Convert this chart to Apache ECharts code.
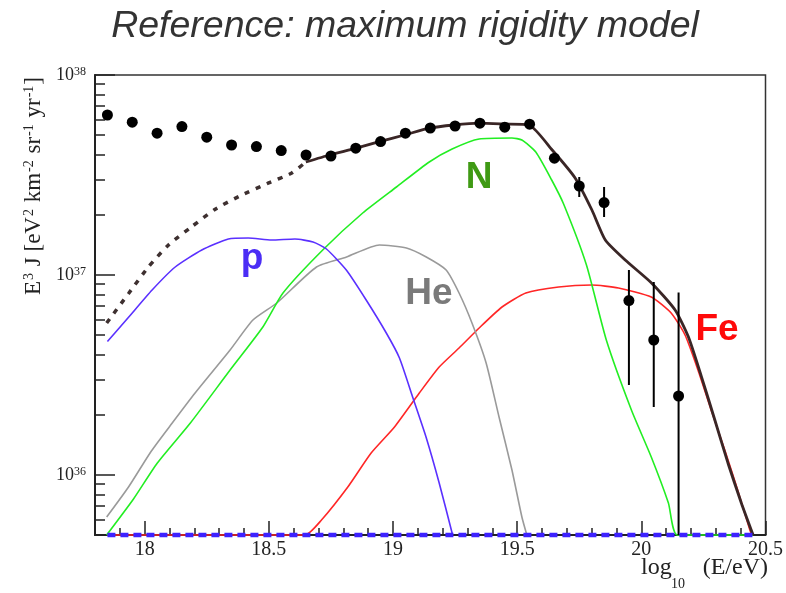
<!DOCTYPE html>
<html><head><meta charset="utf-8">
<script src="https://cdn.jsdelivr.net/npm/echarts@6/dist/echarts.min.js"></script>
<style>html,body{margin:0;padding:0;background:#fff}#c{width:786px;height:593px}</style>
</head><body><div id="c"></div>
<script>
// ---- text ----
const titleText = 'Reference: maximum rigidity model';
// ---- axis ticks ----
const xRange = [17.8, 20.5];
const xTickLabels = [18, 18.5, 19, 19.5, 20, 20.5];
const xMinorTicks = [17.9, 18.1, 18.2, 18.3, 18.4, 18.6, 18.7, 18.8, 18.9, 19.1, 19.2, 19.3, 19.4,
  19.6, 19.7, 19.8, 19.9, 20.1, 20.2, 20.3, 20.4];
// y axis is log10(E^3 J)
const yRange = [35.7, 38];
const yTickExponents = [36, 37, 38];
const yMinorTicks = [6e35, 7e35, 8e35, 9e35, 2e36, 3e36, 4e36, 5e36, 6e36, 7e36, 8e36, 9e36,
  2e37, 3e37, 4e37, 5e37, 6e37, 7e37, 8e37, 9e37];

// ---- measured points (log10 E^3 J) ----
const dataX = [17.85, 17.95, 18.05, 18.15, 18.25, 18.35, 18.45, 18.55, 18.65, 18.75, 18.85, 18.95,
  19.05, 19.15, 19.25, 19.35, 19.45, 19.55, 19.65, 19.75, 19.85, 19.95, 20.05, 20.15];
const dataLog = [37.80, 37.764, 37.709, 37.742, 37.689, 37.65, 37.642, 37.622, 37.60, 37.595, 37.634, 37.667,
  37.709, 37.735, 37.745, 37.759, 37.739, 37.754, 37.584, 37.445, 37.362, 36.872, 36.675, 36.395];
const errX = [19.75, 19.85, 19.95, 20.05, 20.15];
const errLowLog = [37.39, 37.29, 36.45, 36.34, 35.0];
const errHighLog = [37.49, 37.44, 37.025, 36.965, 36.912];

// ---- model curves (log10 E^3 J) ----
const totDashX = [17.847, 17.936, 18.016, 18.096, 18.19, 18.284, 18.391, 18.497, 18.591, 18.649];
const totDashLog = [36.76, 36.909, 37.042, 37.15, 37.242, 37.329, 37.40, 37.459, 37.509, 37.565];
const totX = [18.649, 18.745, 18.852, 18.945, 19.046, 19.146, 19.246, 19.347, 19.447, 19.547, 19.641,
  19.734, 19.801, 19.855, 19.935, 20.042, 20.136, 20.189, 20.242, 20.296, 20.349, 20.403, 20.45];
const totLog = [37.565, 37.60, 37.634, 37.667, 37.70, 37.734, 37.75, 37.759, 37.755, 37.75, 37.625,
  37.484, 37.325, 37.175, 37.075, 36.959, 36.825, 36.692, 36.492, 36.275, 36.059, 35.859, 35.70];

const pX = [17.85, 17.936, 18.03, 18.123, 18.23, 18.337, 18.417, 18.511, 18.605, 18.678, 18.732, 18.812,
  18.892, 18.973, 19.026, 19.079, 19.133, 19.186, 19.24];
const pLog = [36.667, 36.79, 36.925, 37.04, 37.125, 37.18, 37.185, 37.175, 37.18, 37.165, 37.13, 37.025,
  36.875, 36.71, 36.585, 36.39, 36.19, 35.96, 35.70];

const heX = [17.847, 17.935, 18.027, 18.111, 18.203, 18.344, 18.436, 18.532, 18.692, 18.813, 18.945, 19.054,
  19.134, 19.214, 19.266, 19.318, 19.375, 19.427, 19.479, 19.519, 19.539];
const heLog = [35.79, 35.94, 36.12, 36.26, 36.41, 36.625, 36.775, 36.86, 37.04, 37.09, 37.15, 37.135,
  37.09, 37.025, 36.91, 36.76, 36.56, 36.29, 36.025, 35.79, 35.70];

const nX = [17.847, 17.955, 18.051, 18.184, 18.344, 18.476, 18.557, 18.717, 18.878, 19.014, 19.146, 19.238,
  19.347, 19.479, 19.519, 19.575, 19.639, 19.687, 19.779, 19.859, 19.96, 20.04, 20.109, 20.145, 20.45];
const nLog = [35.70, 35.88, 36.06, 36.26, 36.525, 36.74, 36.91, 37.125, 37.31, 37.44, 37.565, 37.63,
  37.68, 37.685, 37.675, 37.615, 37.475, 37.355, 37.05, 36.675, 36.325, 36.09, 35.86, 35.70, 35.70];

const feX = [17.85, 18.645, 18.712, 18.818, 18.912, 19.006, 19.106, 19.186, 19.266, 19.347, 19.439, 19.535,
  19.667, 19.80, 19.908, 20.04, 20.12, 20.176, 20.228, 20.281, 20.336, 20.388, 20.437, 20.445];
const feLog = [35.70, 35.70, 35.775, 35.94, 36.11, 36.24, 36.41, 36.54, 36.635, 36.735, 36.84, 36.91,
  36.94, 36.95, 36.935, 36.89, 36.81, 36.70, 36.525, 36.325, 36.125, 35.925, 35.725, 35.70];

const floorX = [17.85, 20.45];
const floorLog = [35.70, 35.70];

// ---- curve labels ----
const curveNames = ['p', 'He', 'N', 'Fe'];

const zip = (xs, ys) => xs.map((x, i) => [x, ys[i]]);
const serif = '"Liberation Serif", "DejaVu Serif", serif';
const sans = '"Liberation Sans", Arial, sans-serif';

const chart = echarts.init(document.getElementById('c'), null, {renderer: 'canvas'});

function lineSeries(name, xs, ys, color, width, extra) {
  return Object.assign({
    name: name, type: 'line', data: zip(xs, ys), showSymbol: false, symbol: 'none',
    smooth: 0.2, lineStyle: {color: color, width: width}, z: 3, clip: false, animation: false
  }, extra || {});
}

const option = {
  animation: false,
  backgroundColor: '#ffffff',
  grid: {left: 95, top: 75, width: 673, height: 460, show: true, borderColor: '#333', borderWidth: 1.5,
    backgroundColor: 'transparent', z: 0},
  xAxis: [{
    type: 'value', min: xRange[0], max: xRange[1], position: 'bottom', z: 0,
    axisLine: {show: true, onZero: false, lineStyle: {color: '#222', width: 2}},
    axisTick: {show: true, inside: true, length: 14, customValues: xTickLabels, lineStyle: {color: '#222', width: 1.5}},
    axisLabel: {show: true, customValues: xTickLabels, margin: 5, fontFamily: serif, fontSize: 20, color: '#222',
      formatter: v => String(v)},
    splitLine: {show: false}
  }, {
    type: 'value', min: xRange[0], max: xRange[1], position: 'bottom', gridIndex: 0, z: 0,
    axisLine: {show: false, onZero: false},
    axisTick: {show: true, inside: true, length: 7, customValues: xMinorTicks, lineStyle: {color: '#222', width: 1.5}},
    axisLabel: {show: false}, splitLine: {show: false}
  }],
  yAxis: [{
    type: 'value', min: yRange[0], max: yRange[1], position: 'left',
    axisLine: {show: true, onZero: false, lineStyle: {color: '#222', width: 2}},
    axisTick: {show: true, inside: true, length: 20, customValues: yTickExponents, lineStyle: {color: '#222', width: 1.5}},
    axisLabel: {show: true, customValues: yTickExponents, margin: 9,
      formatter: v => '{b|10}{s|' + v + '}',
      rich: {
        b: {fontFamily: serif, fontSize: 18, color: '#222', lineHeight: 18, verticalAlign: 'bottom'},
        s: {fontFamily: serif, fontSize: 12, color: '#222', lineHeight: 12, verticalAlign: 'top', padding: [0, 0, 12, 0]}
      }},
    splitLine: {show: false}
  }, {
    type: 'value', min: yRange[0], max: yRange[1], position: 'left', gridIndex: 0,
    axisLine: {show: false, onZero: false},
    axisTick: {show: true, inside: true, length: 10, customValues: yMinorTicks.map(v => Math.log10(v)),
      lineStyle: {color: '#222', width: 1.5}},
    axisLabel: {show: false}, splitLine: {show: false}
  }],
  series: [
    lineSeries('Fe', feX, feLog, '#ff2626', 1.6),
    lineSeries('He', heX, heLog, '#9a9a9a', 1.6),
    lineSeries('N', nX, nLog, '#22ee22', 1.6),
    lineSeries('p', pX, pLog, '#5a30ff', 1.6),
    lineSeries('floor', floorX, floorLog, '#3d22ff', 4.5, {smooth: false, z: 20, zlevel: 1,
      lineStyle: {color: '#3d22ff', width: 4.5, type: [8, 5]}}),
    lineSeries('total (extrapolated)', totDashX, totDashLog, '#3e3030', 3, {z: 5,
      lineStyle: {color: '#3e3030', width: 3.5, type: [5, 7]}}),
    lineSeries('total', totX, totLog, '#3a2626', 2.8, {z: 5}),
    {
      name: 'errors', type: 'custom', clip: true, z: 6, animation: false,
      data: errX.map((x, i) => [x, errLowLog[i], errHighLog[i]]),
      renderItem: function (params, api) {
        const a = api.coord([api.value(0), api.value(1)]);
        const b = api.coord([api.value(0), api.value(2)]);
        return {type: 'line', shape: {x1: a[0], y1: a[1], x2: b[0], y2: b[1]},
          style: {stroke: '#000', lineWidth: 2}};
      }
    },
    {
      name: 'data', type: 'scatter', data: zip(dataX, dataLog), symbol: 'circle', symbolSize: 11,
      itemStyle: {color: '#000', opacity: 1}, z: 7, animation: false
    }
  ],
  graphic: [
    {type: 'text', x: 405, y: 27, z: 10,
      style: {text: titleText, font: 'italic 37.5px ' + sans, fill: '#333333', align: 'center', verticalAlign: 'middle'}},
    {type: 'text', x: 252, y: 259, z: 10,
      style: {text: curveNames[0], font: 'bold 37px ' + sans, fill: '#4b2df5', align: 'center', verticalAlign: 'middle'}},
    {type: 'text', x: 429, y: 294, z: 10,
      style: {text: curveNames[1], font: 'bold 37px ' + sans, fill: '#7a7a7a', align: 'center', verticalAlign: 'middle'}},
    {type: 'text', x: 479, y: 178, z: 10,
      style: {text: curveNames[2], font: 'bold 37px ' + sans, fill: '#3f9a14', align: 'center', verticalAlign: 'middle'}},
    {type: 'text', x: 717, y: 330, z: 10,
      style: {text: curveNames[3], font: 'bold 37px ' + sans, fill: '#ff0a0a', align: 'center', verticalAlign: 'middle'}},
    // y-axis title
    {type: 'text', x: 34, y: 186, rotation: Math.PI / 2, z: 10,
      style: {
        text: '{n|E}{s|3}{n| J [eV}{s|2}{n| km}{s|-2}{n| sr}{s|-1}{n| yr}{s|-1}{n|]}',
        align: 'center', verticalAlign: 'middle',
        rich: {
          n: {fontFamily: serif, fontSize: 23, fill: '#222', lineHeight: 23, verticalAlign: 'bottom'},
          s: {fontFamily: serif, fontSize: 14, fill: '#222', lineHeight: 14, verticalAlign: 'top', padding: [0, 1, 12, 1]}
        }
      }},
    // x-axis title: log_10(E/eV)
    {type: 'text', x: 641, y: 568, z: 10,
      style: {text: 'log', font: '24px ' + serif, fill: '#222', align: 'left', verticalAlign: 'middle'}},
    {type: 'text', x: 671, y: 584, z: 10,
      style: {text: '10', font: '14px ' + serif, fill: '#222', align: 'left', verticalAlign: 'middle'}},
    {type: 'text', x: 768, y: 568, z: 10,
      style: {text: '(E/eV)', font: '24px ' + serif, fill: '#222', align: 'right', verticalAlign: 'middle'}}
  ]
};
chart.setOption(option);
</script>
</body></html>
